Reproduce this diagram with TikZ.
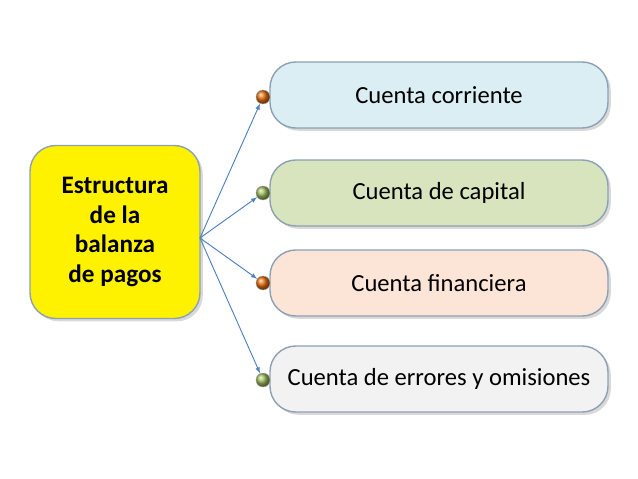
\documentclass[tikz,border=0pt]{standalone}
\usepackage{fontspec}
\setmainfont{Carlito}
\usetikzlibrary{positioning,shadows}
\definecolor{BoxBlue}{HTML}{DAEEF3}
\definecolor{BoxGreen}{HTML}{D7E4BD}
\definecolor{BoxPeach}{HTML}{FCE4D6}
\definecolor{BoxGrey}{HTML}{F2F2F2}
\definecolor{EdgeGrey}{HTML}{8EA0B4}
\definecolor{ArrowBlue}{HTML}{4F81BD}
\definecolor{DotRed}{HTML}{C0504D}
\definecolor{DotOrange}{HTML}{E46C0A}
\definecolor{DotOlive}{HTML}{9BBB59}
\tikzset{
    item/.style = {draw=EdgeGrey, line width=1.2pt, rounded corners=22pt,
        minimum width=338*0.03cm, minimum height=66*0.03cm,
        font=\fontsize{21}{25}\selectfont, drop shadow={opacity=.3}},
    dot/.style = {circle, draw=gray!70, minimum size=.42cm, inner sep=0pt},
    link/.style = {draw=ArrowBlue, thick, -latex}
}
\begin{document}
\begin{tikzpicture}[x=0.03cm,y=-0.03cm]
    \useasboundingbox (0,0) rectangle (638,479);
    \node[draw=EdgeGrey, fill=yellow, rounded corners=22pt, line width=1.2pt,
        minimum width=170*0.03cm, minimum height=173*0.03cm, align=center,
        font=\fontsize{21.5}{25.5}\selectfont\bfseries, drop shadow={opacity=.3}]
        (root) at (115,232) {Estructura\\de la\\balanza\\de pagos};
    \node[item, fill=BoxBlue]  (cc) at (439,95)  {Cuenta corriente};
    \node[item, fill=BoxGreen] (ck) at (439,193) {Cuenta de capital};
    \node[item, fill=BoxPeach] (cf) at (439,283) {Cuenta financiera};
    \node[item, fill=BoxGrey]  (ce) at (439,379) {Cuenta de errores y omisiones};
    \node[dot, ball color=DotOrange] (d1) at (263,97)  {};
    \node[dot, ball color=DotOlive]  (d2) at (263,193) {};
    \node[dot, ball color=DotOrange] (d3) at (263,283) {};
    \node[dot, ball color=DotOlive]  (d4) at (263,380) {};
    \coordinate (hub) at (200,238);
    \foreach \d in {d1,d2,d3,d4}{
        \draw[link] (hub) -- (\d);
    }
\end{tikzpicture}
\end{document}
